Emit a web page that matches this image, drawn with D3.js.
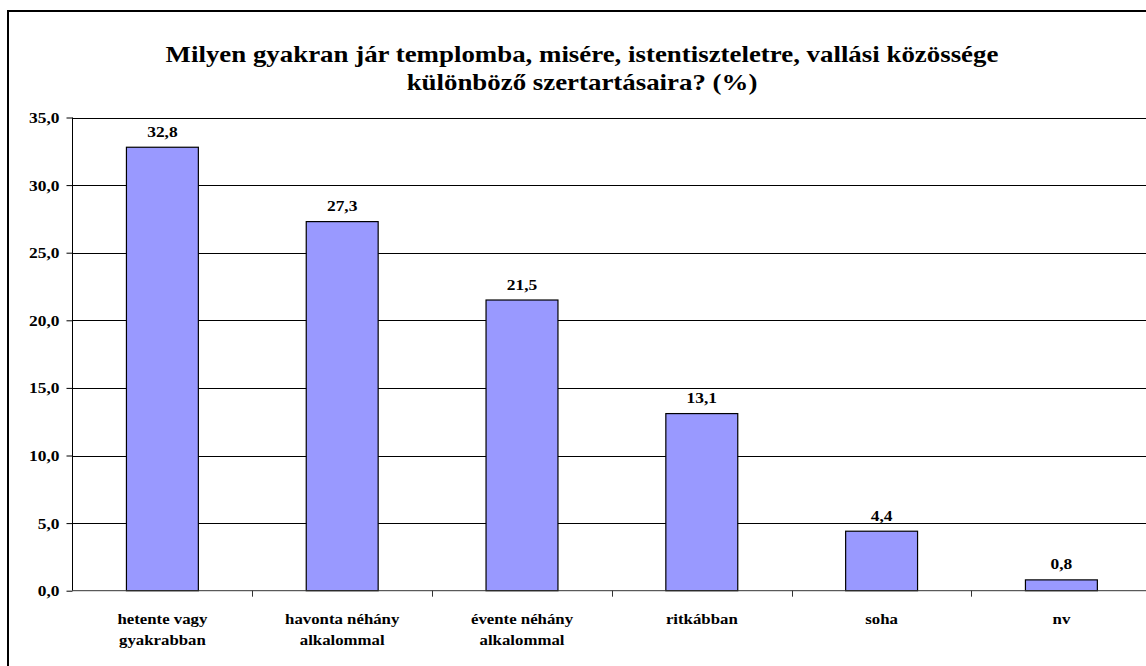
<!DOCTYPE html>
<html>
<head>
<meta charset="utf-8">
<script src="https://cdn.jsdelivr.net/npm/d3@7"></script>
<style>
  body { margin: 0; background: #fff; }
  svg { display: block; }
  text { font-family: "Liberation Serif", "Times New Roman", serif; font-weight: bold; fill: #000; }
</style>
</head>
<body>
<svg id="chart" width="1146" height="666"></svg>
<script>
// data
var categories = [
    ["hetente vagy", "gyakrabban"],
    ["havonta néhány", "alkalommal"],
    ["évente néhány", "alkalommal"],
    ["ritkábban"],
    ["soha"],
    ["nv"]
];
var values = [32.8, 27.3, 21.5, 13.1, 4.4, 0.8];
var yTicks = [0, 5, 10, 15, 20, 25, 30, 35];
var titleLines = [
    "Milyen gyakran jár templomba, misére, istentiszteletre, vallási közössége",
    "különböző szertartásaira? (%)"
];

var svg = d3.select("#chart");
var sx = 1.2;       // text looks stretched sideways in the original
var sxTitle = 1.12;

// plot area (runs past the right edge, the original is cropped)
var plotL = 72.5, plotR = 1151.3, plotT = 117.5, plotB = 590.7;

var fmt = function (d) { return d.toFixed(1).replace(".", ","); };

var x = d3.scaleBand()
    .domain(d3.range(values.length))
    .range([plotL, plotR])
    .paddingInner(0.6)
    .paddingOuter(0.3);

var y = d3.scaleLinear()
    .domain([0, 35])
    .range([plotB, plotT]);

// outer frame
svg.append("rect")
    .attr("x", 8).attr("y", 11)
    .attr("width", 1160).attr("height", 680)
    .attr("fill", "none")
    .attr("stroke", "#000")
    .attr("stroke-width", 2);

// title
svg.append("g").selectAll("text")
    .data(titleLines)
    .enter().append("text")
    .attr("transform", function (d, i) { return "translate(582," + (62 + i * 28) + ") scale(" + sxTitle + ",1)"; })
    .attr("text-anchor", "middle")
    .style("font-size", "24px")
    .text(function (d) { return d; });

// gridlines
svg.append("g").selectAll("line")
    .data(yTicks.slice(1))
    .enter().append("line")
    .attr("x1", plotL).attr("x2", plotR)
    .attr("y1", function (d) { return Math.round(y(d)) + 0.5; })
    .attr("y2", function (d) { return Math.round(y(d)) + 0.5; })
    .attr("stroke", "#000");

// bars
svg.append("g").selectAll("rect")
    .data(values)
    .enter().append("rect")
    .attr("x", function (d, i) { return x(i); })
    .attr("y", function (d) { return y(d); })
    .attr("width", x.bandwidth())
    .attr("height", function (d) { return plotB - y(d); })
    .attr("fill", "#9999ff")
    .attr("stroke", "#000")
    .attr("stroke-width", 1.2);

// value labels
svg.append("g").selectAll("text")
    .data(values)
    .enter().append("text")
    .attr("transform", function (d, i) {
        return "translate(" + (x(i) + x.bandwidth() / 2) + "," + (y(d) - 10.5) + ") scale(" + sx + ",1)";
    })
    .attr("text-anchor", "middle")
    .style("font-size", "14.5px")
    .text(fmt);

// y axis
var yAxis = svg.append("g")
    .attr("transform", "translate(" + plotL + ",0)")
    .call(d3.axisLeft(y).tickValues(yTicks).tickSize(6).tickPadding(6).tickFormat(fmt));
yAxis.select(".domain").attr("stroke", "#000").attr("d", "M0," + plotT + "V" + plotB);
yAxis.selectAll(".tick line").attr("stroke", "#000");
yAxis.selectAll(".tick text")
    .attr("x", null).attr("dy", null)
    .attr("transform", "translate(-13,5) scale(" + sx + ",1)")
    .attr("fill", "#000")
    .style("font-size", "14.5px")
    .style("font-family", null);

// x axis, ticks between the categories
var xAxis = svg.append("g").attr("class", "xaxis");
xAxis.append("line")
    .attr("x1", plotL).attr("x2", plotR)
    .attr("y1", plotB).attr("y2", plotB)
    .attr("stroke", "#333");
xAxis.selectAll(".xt")
    .data(d3.range(1, values.length + 1))
    .enter().append("line")
    .attr("class", "xt")
    .attr("x1", function (i) { return Math.round(plotL + i * x.step()) + 0.5; })
    .attr("x2", function (i) { return Math.round(plotL + i * x.step()) + 0.5; })
    .attr("y1", plotB).attr("y2", plotB + 6)
    .attr("stroke", "#333");

var lab = xAxis.selectAll(".cat")
    .data(categories)
    .enter().append("text")
    .attr("class", "cat")
    .attr("transform", function (d, i) {
        return "translate(" + (x(i) + x.bandwidth() / 2) + ",624) scale(" + sx + ",1)";
    })
    .attr("text-anchor", "middle")
    .style("font-size", "14px");
lab.selectAll("tspan")
    .data(function (d) { return d; })
    .enter().append("tspan")
    .attr("x", 0)
    .attr("dy", function (d, i) { return i === 0 ? 0 : 21; })
    .text(function (d) { return d; });
</script>
</body>
</html>
